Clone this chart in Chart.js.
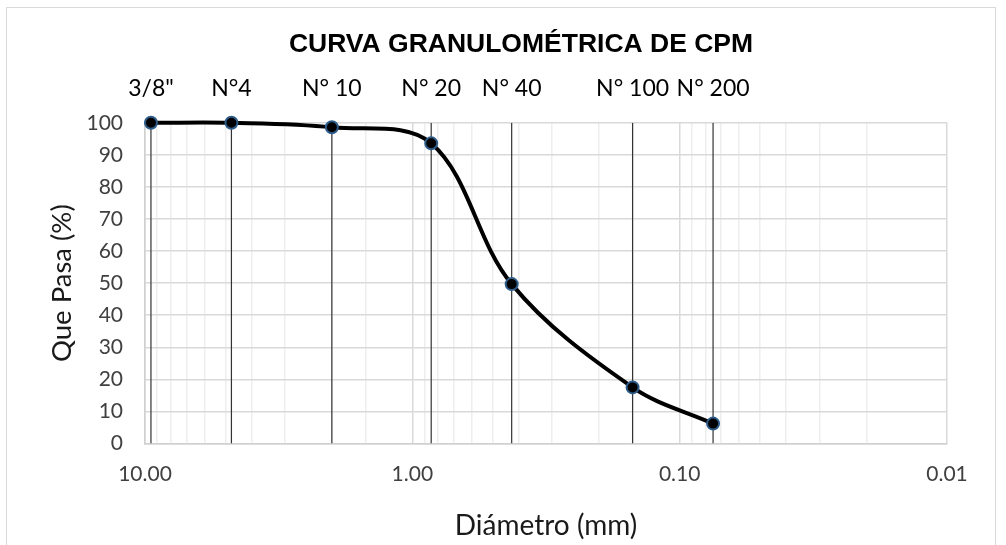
<!DOCTYPE html>
<html>
<head>
<meta charset="utf-8">
<script src="https://cdn.jsdelivr.net/npm/chart.js@4.4.1/dist/chart.umd.min.js"></script>
<style>
  html, body { margin: 0; padding: 0; background: #ffffff; }
  #wrap { position: relative; width: 1006px; height: 545px; overflow: hidden; }
  #frame { position: absolute; left: 6px; top: 7px; width: 990px; height: 560px;
           border: 1.5px solid #d9d9d9; pointer-events: none; box-sizing: border-box; }
</style>
</head>
<body>
<div id="wrap">
  <canvas id="c" width="1006" height="545"></canvas>
  <div id="frame"></div>
</div>
<script>
// ---- data ----
const sieveNames = ['3/8"', 'N°4', 'N° 10', 'N° 20', 'N° 40', 'N° 100', 'N° 200'];
const sieveSizes = [9.5, 4.75, 2.0, 0.85, 0.425, 0.15, 0.075];   // mm
const percentPassing = [100, 100, 98.6, 93.6, 49.7, 17.5, 6.2];  // %
const xTickLabels = ['10.00', '1.00', '0.10', '0.01'];
const yTicks = [0, 10, 20, 30, 40, 50, 60, 70, 80, 90, 100];

const FONT = 'Lato, "Open Sans", "DejaVu Sans", sans-serif';

const curve = {
  label: 'Curva',
  data: sieveSizes.map((s, i) => ({ x: s, y: percentPassing[i] })),
  borderColor: '#000000',
  borderWidth: 4,
  tension: 0.35,
  capBezierPoints: false,
  pointRadius: 6,
  pointBorderWidth: 2,
  pointBackgroundColor: '#000000',
  pointBorderColor: '#2E5C8A',
  clip: false,
  order: 0
};

const sieveLines = sieveSizes.map((s, i) => ({
  label: sieveNames[i],
  data: [{ x: s, y: yTicks[0] }, { x: s, y: yTicks[yTicks.length - 1] }],
  borderColor: '#333333',
  borderWidth: 1.2,
  pointRadius: 0,
  tension: 0,
  order: 1
}));

function isDecade(v) {
  const l = Math.log10(v);
  return Math.abs(l - Math.round(l)) < 1e-6;
}

new Chart(document.getElementById('c'), {
  type: 'line',
  data: { datasets: [curve, ...sieveLines] },
  options: {
    responsive: false,
    animation: false,
    devicePixelRatio: 1,
    layout: { padding: { left: 36, right: 0, top: 0, bottom: 0 } },
    plugins: {
      legend: { display: false },
      tooltip: { enabled: false },
      title: {
        display: true,
        text: 'CURVA GRANULOMÉTRICA DE CPM',
        color: '#000000',
        font: { family: '"Liberation Sans", Arial, sans-serif', size: 26.5, weight: 'bold', lineHeight: 1.2 },
        padding: { top: 29, bottom: 0 }
      }
    },
    scales: {
      x: {
        type: 'logarithmic',
        position: 'bottom',
        min: 0.01,
        max: 10,
        reverse: true,
        afterFit: (s) => { s.height = 101.5; },
        grid: {
          drawTicks: false,
          lineWidth: 1.5,
          color: (ctx) => (ctx.tick && isDecade(ctx.tick.value)) ? '#d9d9d9' : '#eeeeee'
        },
        border: { color: '#d0d0d0', width: 1.5 },
        ticks: {
          autoSkip: false,
          maxRotation: 0,
          minRotation: 0,
          padding: 18,
          color: '#404040',
          font: { family: FONT, size: 21 },
          callback: (v) => {
            if (!isDecade(v)) return '';
            const t = Number(v).toFixed(2);
            return xTickLabels.includes(t) ? t : '';
          }
        },
        title: {
          display: true,
          text: 'Diámetro (mm)',
          color: '#1a1a1a',
          font: { family: FONT, size: 28 },
          padding: { top: 0, bottom: 2.5 }
        }
      },
      xTop: {
        type: 'logarithmic',
        position: 'top',
        min: 0.01,
        max: 10,
        reverse: true,
        afterBuildTicks: (axis) => { axis.ticks = sieveSizes.map(v => ({ value: v })); },
        afterFit: (s) => { s.height = 62; },
        grid: { display: false, drawTicks: false },
        border: { display: false },
        ticks: {
          autoSkip: false,
          maxRotation: 0,
          minRotation: 0,
          padding: 20.9,
          color: '#000000',
          font: { family: FONT, size: 23 },
          callback: (v) => {
            const i = sieveSizes.indexOf(v);
            return i >= 0 ? sieveNames[i] : '';
          }
        }
      },
      y: {
        type: 'linear',
        position: 'left',
        min: yTicks[0],
        max: yTicks[yTicks.length - 1],
        afterBuildTicks: (axis) => { axis.ticks = yTicks.map(v => ({ value: v })); },
        afterFit: (s) => { s.width = 109; },
        grid: { drawTicks: false, lineWidth: 1.5, color: '#d9d9d9' },
        border: { color: '#d0d0d0', width: 1.5 },
        ticks: {
          padding: 22,
          color: '#404040',
          font: { family: FONT, size: 21 }
        },
        title: {
          display: true,
          text: 'Que Pasa (%)',
          color: '#1a1a1a',
          font: { family: FONT, size: 27.5 },
          padding: { top: 9.5, bottom: 0 }
        }
      },
      yRight: {
        type: 'linear',
        position: 'right',
        display: true,
        afterFit: (s) => { s.width = 59; },
        grid: { display: false, drawTicks: false },
        border: { display: false },
        ticks: { display: false }
      }
    }
  }
});
</script>
</body>
</html>
